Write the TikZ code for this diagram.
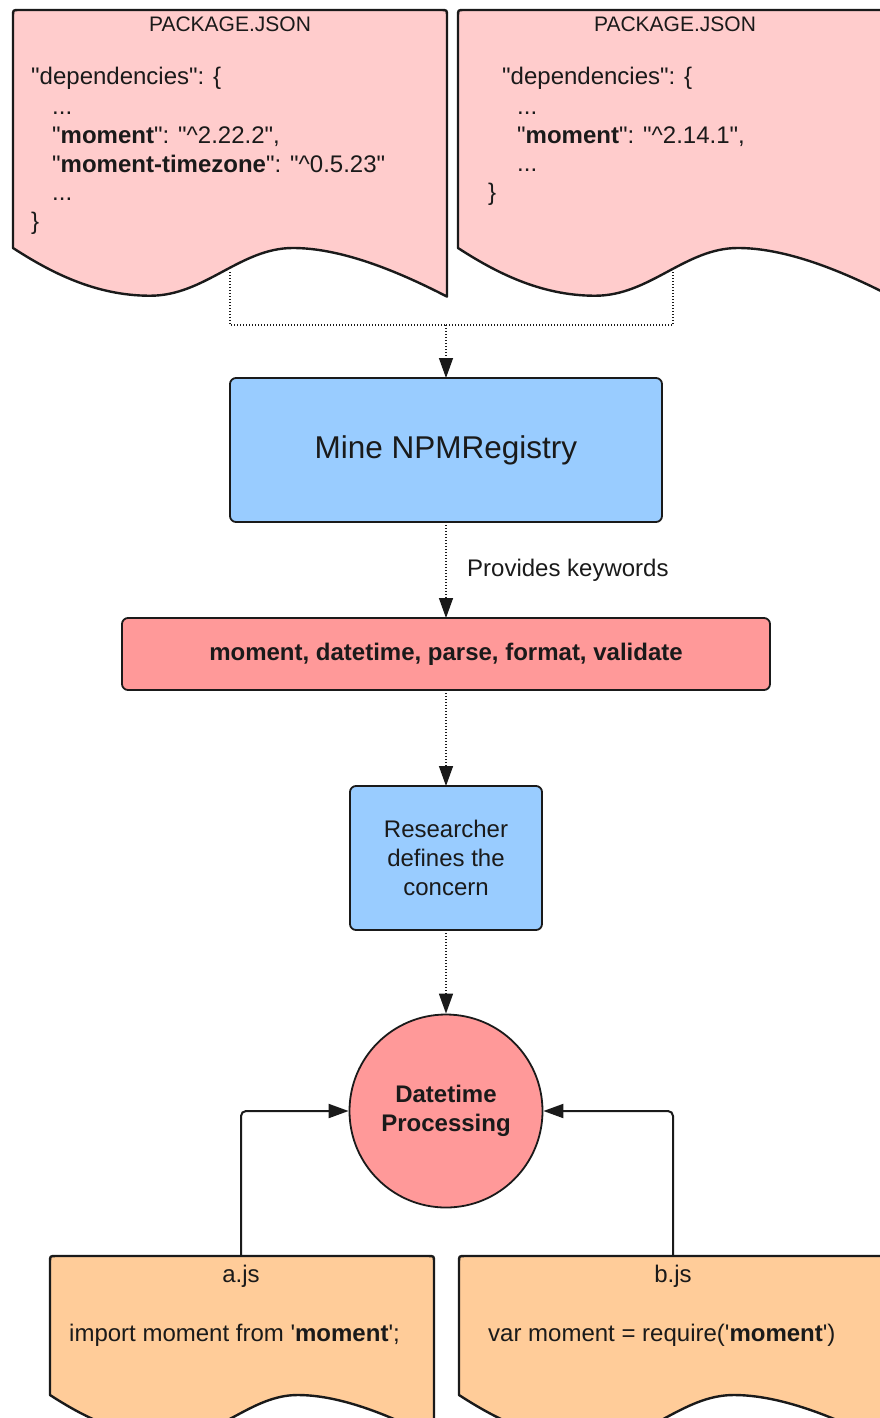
\documentclass[tikz,border=0pt]{standalone}
\usepackage{fontspec}
% plain family: no TeX ligature mapping, so " and ' stay straight
\newfontfamily\lib{Liberation Sans}
\usetikzlibrary{arrows.meta}

\definecolor{docpink}{HTML}{FFCCCC}
\definecolor{boxblue}{HTML}{99CCFF}
\definecolor{salmon}{HTML}{FF9999}
\definecolor{docorange}{HTML}{FFCC99}
\definecolor{ink}{HTML}{1A1A1A}

% document shape: fill, left, top, width, height of the straight left side
\newcommand{\docshape}[5]{%
  \filldraw[fill=#1, draw=ink, line width=2.4pt, line join=round]
    ({#2},{#3+#5}) -- ({#2},{#3+6}) .. controls ({#2},{#3}) .. ({#2+6},{#3})
    -- ({#2+#4-6},{#3}) .. controls ({#2+#4},{#3}) .. ({#2+#4},{#3+6})
    -- ({#2+#4},{#3+#5+0.112*#4})
    .. controls ({#2+0.88*#4},{#3+#5+0.05*#4}) and ({#2+0.753*#4},{#3+#5}) .. ({#2+0.645*#4},{#3+#5})
    .. controls ({#2+0.523*#4},{#3+#5}) and ({#2+0.442*#4},{#3+#5+0.11*#4}) .. ({#2+0.316*#4},{#3+#5+0.11*#4})
    .. controls ({#2+0.189*#4},{#3+#5+0.11*#4}) and ({#2+0.085*#4},{#3+#5+0.055*#4}) .. ({#2},{#3+#5}) -- cycle;}

\begin{document}
\lib
\begin{tikzpicture}[x=1pt, y=-1pt,
  body/.style={font=\fontsize{24}{29}\selectfont, text=ink, inner sep=0pt},
  doctitle/.style={font=\fontsize{21}{25}\selectfont, text=ink, inner sep=0pt, anchor=base},
  flowbox/.style={draw=ink, line width=1.8pt, rounded corners=6pt, align=center,
    inner sep=0pt, outer sep=0pt, text=ink, font=\fontsize{24}{29}\selectfont},
  dotlink/.style={draw=ink, line width=1.4pt, dash pattern=on 1.4pt off 1.6pt},
  solidlink/.style={draw=ink, line width=2pt, rounded corners=5pt},
  tipped/.style={-{Triangle[length=20pt,width=14pt]}}
]
\useasboundingbox (0,0) rectangle (880,1418);
\clip (0,0) rectangle (880,1418);

% package.json documents
\docshape{docpink}{13}{10}{434}{238}
\docshape{docpink}{458}{10}{434}{238}

\node[doctitle] (t1) at (230,32) {PACKAGE.JSON};
\node[body, anchor=base west] (a1) at (31,85) {"dependencies": \{};
\node[body, anchor=base west] (a2) at (52,114) {...};
\node[body, anchor=base west] (a3) at (52,143) {"\textbf{moment}": "\textasciicircum2.22.2",};
\node[body, anchor=base west] (a4) at (52,172) {"\textbf{moment-timezone}": "\textasciicircum0.5.23"};
\node[body, anchor=base west] (a5) at (52,200) {...};
\node[body, anchor=base west] (a6) at (31,229) {\}};

\node[doctitle] (t2) at (675,32) {PACKAGE.JSON};
\node[body, anchor=base west] (b1) at (502,85) {"dependencies": \{};
\node[body, anchor=base west] (b2) at (517,114) {...};
\node[body, anchor=base west] (b3) at (517,143) {"\textbf{moment}": "\textasciicircum2.14.1",};
\node[body, anchor=base west] (b4) at (517,171) {...};
\node[body, anchor=base west] (b5) at (488,200) {\}};

% source file documents
\docshape{docorange}{50}{1256}{384}{139}
\docshape{docorange}{459}{1256}{426}{139}

\node[body, anchor=base] (t3) at (241,1282) {a.js};
\node[body, anchor=base west] (c1) at (69,1341) {import moment from '\textbf{moment}';};
\node[body, anchor=base] (t4) at (673,1282) {b.js};
\node[body, anchor=base west] (c2) at (488,1341) {var moment = require('\textbf{moment}')};

% flow
\node[flowbox, fill=boxblue, minimum width=432pt, minimum height=144pt,
      font=\fontsize{31.5}{36}\selectfont] (mine) at (446,450) {Mine NPMRegistry};
\node[flowbox, fill=salmon, minimum width=648pt, minimum height=72pt,
      font=\fontsize{24}{29}\selectfont\bfseries] (kw) at (446,654)
      {moment, datetime, parse, format, validate};
\node[flowbox, fill=boxblue, minimum width=192pt, minimum height=144pt] (res) at (446,858)
      {Researcher\\defines the\\concern};
\node[circle, draw=ink, line width=1.8pt, fill=salmon, minimum size=193pt, inner sep=0pt,
      align=center, text=ink, font=\fontsize{24}{29}\selectfont\bfseries] (proc) at (446,1111)
      {Datetime\\Processing};

\coordinate (d1out) at (230,272);
\coordinate (d2out) at (673,272);
\coordinate (merge) at (446,325);
\coordinate (ajs) at (241,1256);
\coordinate (bjs) at (673,1256);

\draw[dotlink] (d1out) |- (merge);
\draw[dotlink] (d2out) |- (merge);
\draw[dotlink, tipped] (merge) -- (mine.north);
\draw[dotlink, tipped] (mine.south) -- (kw.north);
\node[body, anchor=base west] (provides) at (467,576) {Provides keywords};
\draw[dotlink, tipped] (kw.south) -- (res.north);
\draw[dotlink, tipped] (res.south) -- (proc.north);

\draw[solidlink, tipped] (ajs) |- (proc.west);
\draw[solidlink, tipped] (bjs) |- (proc.east);
\end{tikzpicture}
\end{document}
